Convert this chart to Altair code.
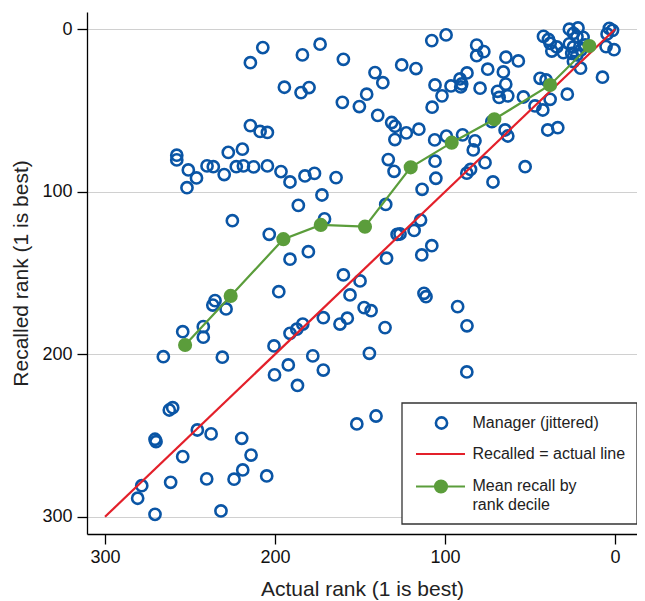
import altair as alt
import pandas as pd

# Manager points (jittered): actual rank and recalled rank
actual_rank = [
    207.2, 214.5, 194.5, 184.7, 180.0, 214.5, 208.8, 204.5, 257.8, 257.8,
    227.5, 219.2, 251.0, 246.2, 251.8, 240.0, 236.3, 229.9, 222.8, 218.6,
    212.6, 204.5, 196.5, 191.2, 182.4, 186.3, 176.8, 164.1, 172.4, 173.5,
    183.9, 159.8, 160.4, 150.4, 146.1, 141.2, 136.6, 139.6, 131.4, 129.4,
    129.5, 122.8, 115.4, 125.5, 117.1, 107.8, 99.4, 105.9, 101.8, 107.6,
    96.5, 91.2, 90.2, 90.8, 87.1, 81.4, 77.2, 81.4, 64.2, 56.9,
    74.9, 65.7, 79.4, 64.3, 69.1, 68.2, 63.1, 53.9, 133.4, 130.0,
    106.1, 99.2, 89.7, 105.9, 105.4, 113.5, 87.2, 85.0, 83.4, 82.4,
    76.5, 72.5, 64.7, 63.1, 71.8, 52.9, 47.1, 42.5, 38.2, 28.1,
    39.6, 33.7, 44.1, 40.6, 7.4, 42.1, 39.2, 38.2, 37.2, 34.3,
    30.4, 26.9, 21.8, 24.5, 22.4, 18.8, 26.9, 24.5, 25.5, 22.5,
    20.0, 17.6, 24.5, 20.3, 3.4, 1.5, 4.7, 0.6, 5.3,
    225.1, 203.4, 197.8, 235.3, 236.6, 228.8, 254.3, 242.2, 242.2, 265.7,
    231.0, 200.6, 200.3, 170.9, 180.4, 191.2, 134.4, 134.9, 128.2, 126.5,
    118.2, 114.4, 107.8, 113.7, 159.8, 150.0, 155.9, 147.6, 143.5, 157.5,
    161.8, 171.6, 183.7, 187.2, 191.2, 135.3, 144.5, 177.8, 171.6, 192.2,
    186.8, 112.4, 111.2, 92.6, 87.1, 87.2,
    262.2, 260.2, 245.7, 237.6, 270.6, 270.0, 219.6, 214.1, 254.3, 219.0,
    224.1, 204.9, 240.2, 261.4, 278.4, 280.8, 270.6, 231.8, 151.9, 140.6,
]
recalled_rank = [
    11.3, 20.6, 35.7, 39.0, 35.9, 59.3, 62.9, 63.5, 77.5, 80.4,
    75.8, 73.8, 86.6, 91.5, 97.5, 84.1, 84.6, 89.4, 84.6, 84.1,
    84.7, 84.1, 87.6, 94.0, 90.3, 108.4, 88.7, 91.3, 102.0, 9.2,
    15.8, 18.5, 45.0, 47.6, 40.0, 26.7, 32.9, 53.0, 57.4, 59.7,
    67.9, 63.8, 61.5, 22.0, 24.2, 7.0, 3.5, 34.3, 41.0, 48.0,
    34.9, 30.6, 33.7, 35.5, 26.9, 9.8, 13.8, 16.3, 17.2, 19.5,
    24.6, 26.3, 36.3, 33.8, 38.2, 42.0, 41.0, 41.7, 80.2, 87.4,
    68.1, 65.8, 65.0, 81.2, 91.7, 98.5, 88.6, 86.3, 74.3, 68.7,
    82.1, 56.9, 62.0, 65.7, 94.0, 84.6, 47.2, 49.7, 43.1, 40.0,
    62.0, 60.6, 30.2, 31.2, 29.5, 4.4, 6.3, 8.7, 13.4, 10.9,
    14.4, 0.0, -0.8, 2.5, 4.6, 5.0, 9.0, 10.9, 14.8, 15.8,
    12.7, 9.7, 19.9, 24.0, -0.5, 0.7, 2.9, 12.6, 10.7,
    117.8, 126.2, 161.5, 167.0, 169.7, 172.1, 186.1, 183.0, 189.5, 201.5,
    201.8, 194.9, 212.7, 116.7, 136.9, 141.5, 140.9, 107.8, 126.3, 126.0,
    123.8, 117.4, 133.2, 138.9, 151.2, 154.9, 163.5, 171.3, 173.2, 177.8,
    181.4, 177.5, 181.4, 184.6, 187.1, 183.6, 199.4, 201.0, 209.7, 206.6,
    219.2, 162.5, 164.6, 170.7, 182.5, 210.9,
    234.3, 232.9, 246.6, 249.0, 252.3, 253.8, 251.7, 262.0, 263.0, 271.2,
    276.9, 274.9, 276.7, 278.8, 280.9, 288.6, 298.5, 296.4, 242.9, 238.0,
]

# Mean recall by rank decile
decile_actual = [252.9, 226.1, 195.1, 173.1, 147.1, 120.2, 96.1, 71.0, 38.2, 15.1]
decile_recalled = [194.3, 164.1, 129.2, 120.4, 121.5, 85.0, 69.8, 55.4, 34.3, 10.3]

# 45-degree line (recalled = actual)
diag_actual = [300, 0]
diag_recalled = [300, 0]

tick_values = [0, 100, 200, 300]

BLUE = "#0a55a5"
RED = "#e3202a"
GREEN = "#5b9d3b"
FONT = "Liberation Sans"

pts = pd.DataFrame({"actual": actual_rank, "recalled": recalled_rank})
dec = pd.DataFrame({"actual": decile_actual, "recalled": decile_recalled})
diag = pd.DataFrame({"actual": diag_actual, "recalled": diag_recalled})

x_enc = alt.X(
    "actual:Q",
    scale=alt.Scale(domain=[-12.9, 310.6], reverse=True, nice=False, zero=False),
    axis=alt.Axis(values=tick_values, grid=False, title="Actual rank (1 is best)",
                  labelPadding=4, titlePadding=12, format="d"),
)
y_enc = alt.Y(
    "recalled:Q",
    scale=alt.Scale(domain=[-10.6, 310.6], reverse=True, nice=False, zero=False),
    axis=alt.Axis(values=tick_values, grid=True, labelAngle=0, title="Recalled rank (1 is best)",
                  labelPadding=5, titlePadding=10, format="d"),
)

scatter = alt.Chart(pts).mark_point(
    shape="circle", filled=False, size=125, strokeWidth=2.6, color=BLUE, opacity=1
).encode(x=x_enc, y=y_enc)

diag_line = alt.Chart(diag).mark_line(color=RED, strokeWidth=2.2).encode(x=x_enc, y=y_enc)

dec_line = alt.Chart(dec).mark_line(color=GREEN, strokeWidth=2.2).encode(x=x_enc, y=y_enc)
dec_pts = alt.Chart(dec).mark_circle(color=GREEN, size=200, opacity=1).encode(x=x_enc, y=y_enc)

one = pd.DataFrame({"k": [0]})
leg_box = alt.Chart(one).mark_rect(fill="white", stroke="#333333", strokeWidth=1.3).encode(
    x=alt.value(315), x2=alt.value(550), y=alt.value(391), y2=alt.value(512)
)
leg_circle = alt.Chart(one).mark_point(
    shape="circle", filled=False, size=125, strokeWidth=2.6, color=BLUE, opacity=1
).encode(x=alt.value(354.5), y=alt.value(411))
leg_red = alt.Chart(one).mark_rule(color=RED, strokeWidth=2.2).encode(
    x=alt.value(329), x2=alt.value(378), y=alt.value(442)
)
leg_green = alt.Chart(one).mark_rule(color=GREEN, strokeWidth=2.2).encode(
    x=alt.value(329), x2=alt.value(378), y=alt.value(474.5)
)
leg_gdot = alt.Chart(one).mark_circle(color=GREEN, size=200, opacity=1).encode(
    x=alt.value(354), y=alt.value(474.5)
)

def leg_text(txt, yy):
    return alt.Chart(one).mark_text(
        text=txt, align="left", baseline="middle", font=FONT, fontSize=16, color="#222222"
    ).encode(x=alt.value(385.5), y=alt.value(yy))

chart = alt.layer(
    scatter, diag_line, dec_line, dec_pts,
    leg_box, leg_circle, leg_red, leg_green, leg_gdot,
    leg_text("Manager (jittered)", 411),
    leg_text("Recalled = actual line", 442),
    leg_text("Mean recall by", 474),
    leg_text("rank decile", 493),
).properties(
    width=550, height=522,
    autosize=alt.AutoSizeParams(type="none"),
    padding={"left": 79, "top": 4, "right": 0, "bottom": 66},
).configure_view(stroke=None).configure_axis(
    domainColor="#000000", domainWidth=1.3, tickColor="#000000", tickWidth=1.3, tickSize=10,
    labelFont=FONT, titleFont=FONT, labelFontSize=18, titleFontSize=21,
    labelColor="#111111", titleColor="#222222", titleFontWeight="normal",
    gridColor="#d0d0d0", gridWidth=1.2,
)

chart.save("out.html", embed_options={"renderer": "svg", "actions": False})
